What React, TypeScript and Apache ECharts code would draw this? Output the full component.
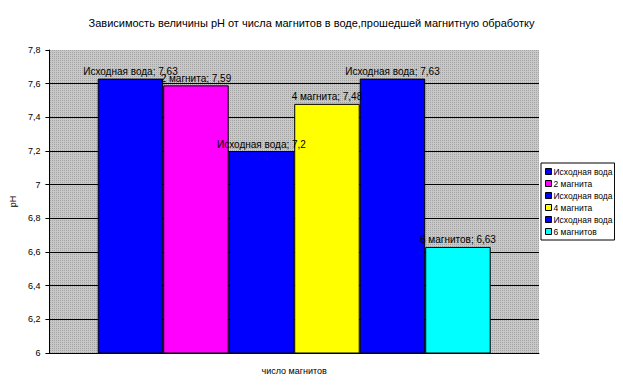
import React, { useEffect, useRef } from "react";
import * as echarts from "echarts";

const titleText = "Зависимость величины pH от числа магнитов в воде,прошедшей магнитную обработку";
const seriesLabels = ["Исходная вода", "2 магнита", "Исходная вода", "4 магнита", "Исходная вода", "6 магнитов"];
const seriesValues = [7.63, 7.59, 7.2, 7.48, 7.63, 6.63];
const seriesColors = ["#0000ff", "#ff00ff", "#0000ff", "#ffff00", "#0000ff", "#00ffff"];
const categories = ["число магнитов"];
const yMin = 6;
const yMax = 7.8;
const yStep = 0.2;

const FONT = "Arial, 'Liberation Sans', sans-serif";

function fmt(v: number): string {
  const r = Math.round(v * 100) / 100;
  return String(r).replace(".", ",");
}

function makePattern(): any {
  if (typeof document === "undefined") return "#c0c0c0";
  const c = document.createElement("canvas");
  c.width = 2;
  c.height = 2;
  const ctx = c.getContext("2d");
  if (!ctx) return "#c0c0c0";
  ctx.fillStyle = "#c8c8c8";
  ctx.fillRect(0, 0, 2, 2);
  ctx.fillStyle = "#a4a4a4";
  ctx.fillRect(0, 0, 1, 1);
  return { image: c, repeat: "repeat" };
}

export default function App() {
  const ref = useRef<HTMLDivElement>(null);
  useEffect(() => {
    if (!ref.current) return;
    const chart = echarts.init(ref.current, undefined, { renderer: "svg" });
    const keys = seriesLabels.map((_, i) => "s" + i);
    chart.setOption({
      animation: false,
      backgroundColor: "#ffffff",
      title: {
        text: titleText,
        left: "center",
        top: 12,
        textStyle: { fontFamily: FONT, fontSize: 11, fontWeight: "normal", color: "#000" },
      },
      legend: {
        orient: "vertical",
        left: 541,
        top: 163,
        data: keys,
        formatter: (name: string) => seriesLabels[keys.indexOf(name)],
        icon: "rect",
        itemWidth: 6,
        itemHeight: 6,
        itemGap: 3,
        padding: [4, 2, 4, 4],
        borderColor: "#000",
        borderWidth: 1,
        backgroundColor: "#fff",
        itemStyle: { borderColor: "#000", borderWidth: 1 },
        textStyle: { fontFamily: FONT, fontSize: 8.5, color: "#000", lineHeight: 9, padding: [0, 0, 0, -3] },
      },
      grid: {
        left: 43,
        top: 50,
        right: 84,
        bottom: 35,
        show: true,
        backgroundColor: makePattern(),
        borderWidth: 0,
      },
      xAxis: {
        type: "category",
        data: categories,
        name: categories[0],
        nameLocation: "middle",
        nameGap: 13,
        nameTextStyle: { fontFamily: FONT, fontSize: 9, color: "#000" },
        axisLabel: { show: false },
        axisTick: { show: false },
        axisLine: { lineStyle: { color: "#000", width: 1 } },
      },
      yAxis: {
        type: "value",
        min: yMin,
        max: yMax,
        interval: yStep,
        name: "pH",
        nameLocation: "middle",
        nameGap: 21,
        nameTextStyle: { fontFamily: FONT, fontSize: 9, color: "#000" },
        axisLine: { show: true, lineStyle: { color: "#000", width: 1 } },
        axisTick: { show: true, length: 4, lineStyle: { color: "#000" } },
        axisLabel: {
          fontFamily: FONT,
          fontSize: 9,
          color: "#000",
          margin: 9,
          formatter: (v: number) => fmt(v),
        },
        splitLine: { show: true, showMaxLine: false, lineStyle: { color: "#000", width: 1 } },
      },
      series: seriesValues.map((v, i) => ({
        type: "bar",
        name: keys[i],
        data: [v],
        barWidth: 65.5,
        barGap: "0%",
        itemStyle: { color: seriesColors[i], borderColor: "#000", borderWidth: 1 },
        label: {
          show: true,
          position: "top",
          distance: 2,
          fontFamily: FONT,
          fontSize: 10,
          color: "#000",
          formatter: (p: any) => `${seriesLabels[i]}; ${fmt(p.value)}`,
        },
      })),
    });
    return () => chart.dispose();
  }, []);
  return <div ref={ref} style={{ width: 623, height: 388, margin: -8 }} />;
}
